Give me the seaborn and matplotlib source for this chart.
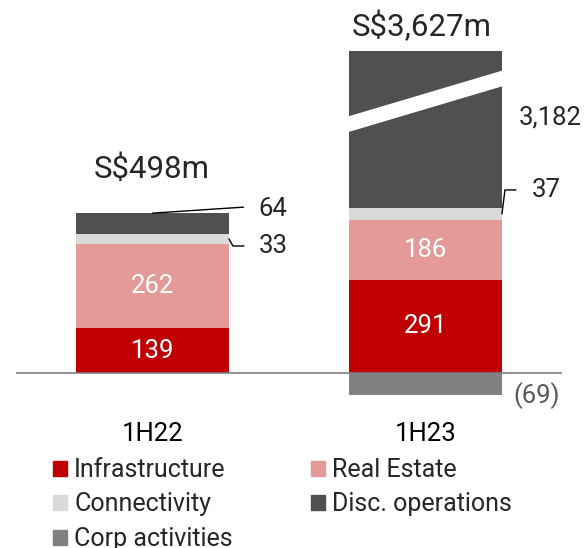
import matplotlib
matplotlib.use("Agg")
import matplotlib.pyplot as plt
import seaborn as sns
import numpy as np
import pandas as pd

# values in S$m
periods = ["1H22", "1H23"]
infrastructure = [139, 291]
real_estate = [262, 186]
connectivity = [33, 37]
disc_operations = [64, 3182]
corp_activities = [0, -69]
total_labels = ["S$498m", "S$3,627m"]

segments = ["Infrastructure", "Real Estate", "Connectivity", "Disc. operations", "Corp activities"]
colors = {"Infrastructure": "#C00000", "Real Estate": "#E59A9A", "Connectivity": "#D9D9D9",
          "Disc. operations": "#505050", "Corp activities": "#808080"}

# the big disc. operations bar is drawn with a broken axis
DISC_CAP = 489
disc_shown = [min(v, DISC_CAP) for v in disc_operations]

df = pd.DataFrame({"period": periods, "Infrastructure": infrastructure, "Real Estate": real_estate,
                   "Connectivity": connectivity, "Disc. operations": disc_shown,
                   "Corp activities": corp_activities})
stack = ["Infrastructure", "Real Estate", "Connectivity", "Disc. operations"]
cum = df[stack].cumsum(axis=1)
bottoms = cum - df[stack]

sns.set_theme(style="white")
plt.rcParams["font.family"] = ["Roboto", "DejaVu Sans"]

W, H = 584, 548
fig = plt.figure(figsize=(W / 100, H / 100), dpi=100)
ax = fig.add_axes([16 / W, 148 / H, 546 / W, 400 / H])
bar_w = 0.56

# stacked bars, drawn back to front
for seg in reversed(stack):
    sns.barplot(x=df["period"], y=cum[seg], color=colors[seg], width=bar_w,
                saturation=1, linewidth=0, ax=ax)
sns.barplot(x=df["period"], y=df["Corp activities"], color=colors["Corp activities"],
            width=bar_w, saturation=1, linewidth=0, ax=ax)

px_per_unit = 0.321
ax.set_xlim(-0.5, 1.5)
ax.set_ylim(-27 / px_per_unit, 373 / px_per_unit)
ax.axhline(0, color="#7F7F7F", lw=1.2, zorder=5)
for s in ax.spines.values():
    s.set_visible(False)
ax.set_yticks([])
ax.set_xlabel("")
ax.set_ylabel("")
ax.tick_params(axis="x", length=0, pad=16, labelsize=18.5, labelcolor="black")


def px_to_data(anchor, dx, dy):
    disp = ax.transData.transform(anchor) + np.array([dx, dy])
    return ax.transData.inverted().transform(disp)


def leader(anchor, pts):
    xy = np.array([anchor] + [px_to_data(anchor, dx, dy) for dx, dy in pts])
    ax.plot(xy[:, 0], xy[:, 1], color="black", lw=1, zorder=6, clip_on=False)


num_fs = 18.5

# axis break on the 1H23 disc. operations bar
i = 1
x0, x1 = i - bar_w / 2, i + bar_w / 2
b, h = bottoms.loc[i, "Disc. operations"], disc_shown[i]
band = plt.Polygon([(x0 - 0.01, b + 0.48 * h), (x1 + 0.01, b + 0.78 * h),
                    (x1 + 0.01, b + 0.88 * h), (x0 - 0.01, b + 0.58 * h)],
                   closed=True, color="white", lw=0, zorder=4)
ax.add_patch(band)

# white labels inside the bars
for i in range(len(periods)):
    for seg in ["Infrastructure", "Real Estate"]:
        v = df.loc[i, seg]
        ax.text(i, bottoms.loc[i, seg] + v / 2, f"{v:,}", ha="center", va="center",
                color="white", fontsize=num_fs, zorder=6)

# 1H22 small segments
top0 = cum.loc[0, "Disc. operations"]
leader((0, top0), [(91, 6)])
ax.annotate(f"{disc_operations[0]:,}", (0, top0), xytext=(106, 4), textcoords="offset pixels",
            ha="left", va="center", fontsize=num_fs)
c0 = bottoms.loc[0, "Connectivity"] + connectivity[0] / 2
leader((bar_w / 2, c0), [(4, -7), (15, -7)])
ax.annotate(f"{connectivity[0]:,}", (bar_w / 2, c0), xytext=(30, -7), textcoords="offset pixels",
            ha="left", va="center", fontsize=num_fs)

# 1H23 labels
c1 = bottoms.loc[1, "Connectivity"] + connectivity[1] / 2
leader((1 + bar_w / 2, c1), [(3, 24), (14, 24)])
ax.annotate(f"{connectivity[1]:,}", (1 + bar_w / 2, c1), xytext=(30, 24), textcoords="offset pixels",
            ha="left", va="center", fontsize=num_fs)
d1 = bottoms.loc[1, "Disc. operations"] + disc_shown[1] / 2
ax.annotate(f"{disc_operations[1]:,}", (1 + bar_w / 2, d1), xytext=(17, 12), textcoords="offset pixels",
            ha="left", va="center", fontsize=num_fs)
ax.annotate(f"({abs(corp_activities[1])})", (1 + bar_w / 2, corp_activities[1] / 2), xytext=(11, -12),
            textcoords="offset pixels", ha="left", va="center", fontsize=num_fs, color="#595959")

# totals
for i, (lab, dy, dx) in enumerate(zip(total_labels, [35, 15], [-1, -4])):
    ax.annotate(lab, (i, cum.loc[i, "Disc. operations"]), xytext=(dx, dy), textcoords="offset pixels",
                ha="center", va="baseline", fontsize=22.5, annotation_clip=False)

# legend, filled column-wise
order = ["Infrastructure", "Connectivity", "Corp activities", "Real Estate", "Disc. operations"]
handles = [plt.Rectangle((0, 0), 1, 1, color=colors[s]) for s in order]
fig.legend(handles, order, ncol=2, loc="upper left", bbox_to_anchor=(53 / W, 1 - 458 / H),
           frameon=False, fontsize=18, handlelength=0.56, handleheight=0.56, handletextpad=0.28,
           columnspacing=3.13, labelspacing=0.42, borderpad=0, borderaxespad=0)

fig.savefig("out.png", dpi=100)
